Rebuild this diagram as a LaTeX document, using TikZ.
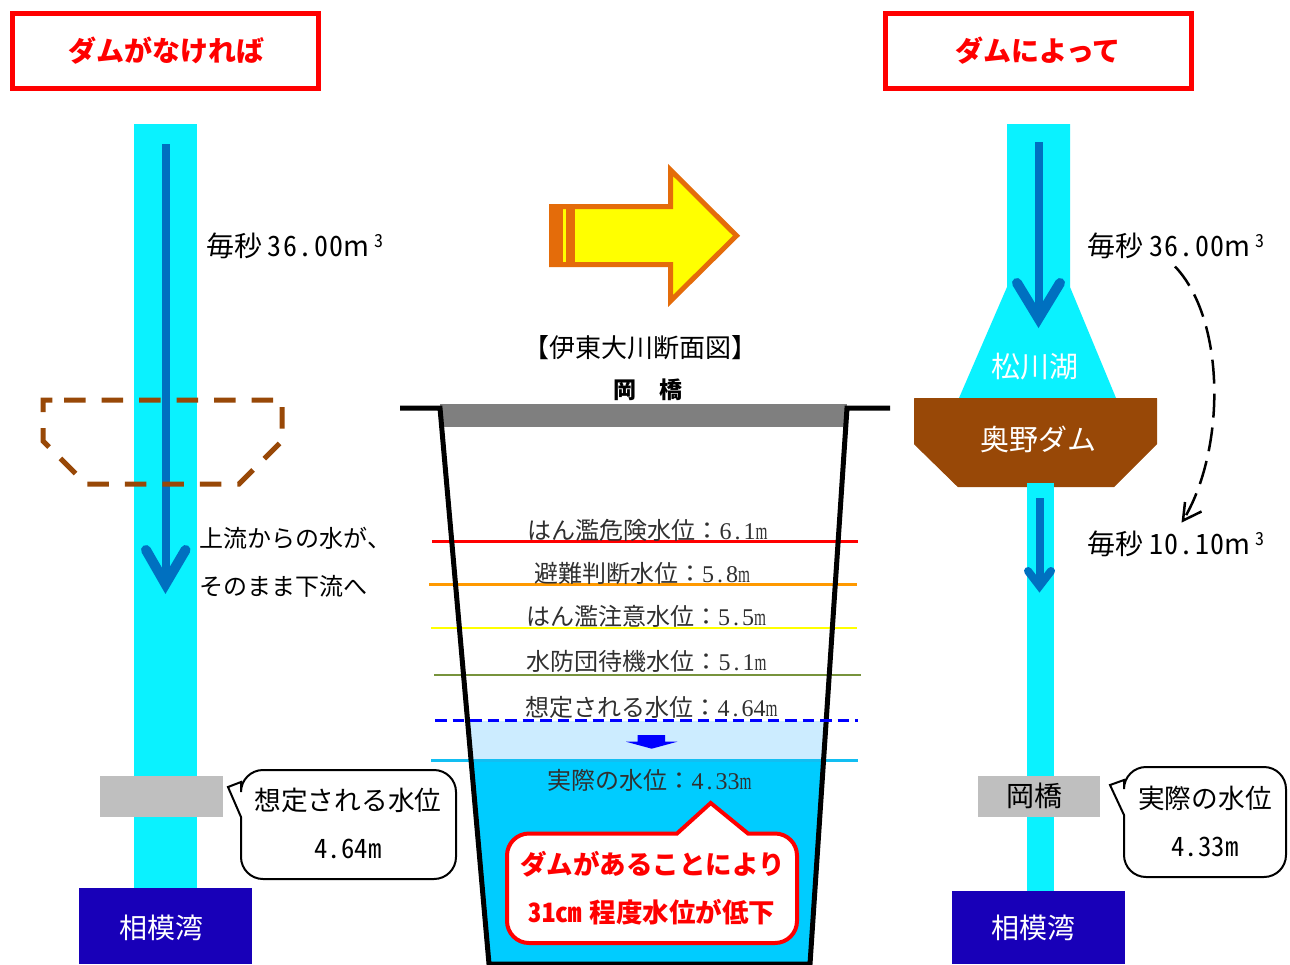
\documentclass[tikz,border=0pt]{standalone}
\usepackage{graphicx}
\usepackage{fontspec}
\setmainfont{Noto Sans CJK JP}
\newfontfamily\hw[RawFeature=+hwid]{Noto Sans CJK JP}
\newfontfamily\hwsp[RawFeature=+hwid,LetterSpace=5]{Noto Sans CJK JP}
\newfontfamily\minchodigits{Liberation Serif}
\definecolor{river}{HTML}{0AF2FF}
\definecolor{flowblue}{HTML}{0070C0}
\definecolor{dambrown}{HTML}{984807}
\definecolor{seablue}{HTML}{1800B8}
\definecolor{bridgegray}{HTML}{BFBFBF}
\definecolor{darkgray}{HTML}{7F7F7F}
\definecolor{arroworange}{HTML}{E46C0A}
\definecolor{waterdeep}{HTML}{00CCFF}
\definecolor{waterlight}{HTML}{CCECFF}
\definecolor{labelink}{HTML}{303030}
\definecolor{pureyellow}{HTML}{FFFF00}
\definecolor{lvorange}{HTML}{FF9900}
\definecolor{lvgreen}{HTML}{77933C}
\definecolor{lvcyan}{HTML}{12BEF2}
\newcommand{\flowtext}[1]{毎秒\hspace{6pt}{\hwsp #1}m\hspace{5pt}\raisebox{9pt}{\fontsize{18}{18}\selectfont{\hw 3}}}
\newcommand{\mdig}[3]{{\minchodigits #1\makebox[.5em]{.}#2\scalebox{.64}[1]{m}}}
\tikzset{
  lbl/.style={inner sep=0pt,outer sep=0pt,align=center},
  sz/.style={lbl,font=\fontsize{#1}{#1}\selectfont,text height=0.88*#1 pt,text depth=0.12*#1 pt},
  t28/.style={sz=28},
  t27/.style={sz=26.7},
  t24/.style={sz=24},
  lvl/.style={sz=24,text=labelink},
  head/.style={sz=28,font=\fontsize{28}{28}\selectfont\bfseries,text=red},
  redb/.style={sz=26.5,font=\fontsize{26.5}{26.5}\selectfont\bfseries,text=red},
  wh/.style={t28,text=white},
  titlebox/.style={draw=red,line width=5,fill=white},
  shaft/.style={draw=flowblue,line width=8},
  vee/.style={draw=flowblue,line cap=round,line join=miter,miter limit=20},
  callout/.style={draw=black,line width=2,fill=white,rounded corners=22},
}
\begin{document}
\begin{tikzpicture}[x=1pt,y=-1pt]
\useasboundingbox (0,0) rectangle (1290,964);
\fill[white] (0,0) rectangle (1290,964);
% title boxes
\draw[titlebox] (12.5,13.5) rectangle (318,88.5);
\node[head] (t1) at (166,50.5) {ダムがなければ};
\draw[titlebox] (885.5,13.5) rectangle (1191.5,88.5);
\node[head] (t2) at (1038,50.5) {ダムによって};
% left river
\fill[river] (134,124) rectangle (197,888);
\fill[bridgegray] (100,776) rectangle (223,817);
\fill[seablue] (79,888) rectangle (252,964);
\node[wh] (sea1) at (161,928) {相模湾};
\coordinate (a1s) at (165.5,144);
\coordinate (a1e) at (165.5,580);
\coordinate (a1l) at (146,550);
\coordinate (a1r) at (185.5,550);
\coordinate (a1t) at (165.5,584);
\draw[shaft] (a1s) -- (a1e);
\draw[vee,line width=10] (a1l) -- (a1t) -- (a1r);
% dashed former dam
\draw[dambrown,line width=5,dash pattern=on 21.5 off 16]
  (64,400) -- (282,400) -- (282,441) -- (239,484) -- (86,484) -- (43,441) -- (43,400) -- cycle;
\node[t28,anchor=west] (q1) at (206,246) {\flowtext{36.00}};
\node[t24,anchor=west] (up1) at (199.5,538) {上流からの水が、};
\node[t24,anchor=west] (up2) at (199.5,586) {そのまま下流へ};
% left callout
\draw[callout] (241,782) [sharp corners] -- (228,787) -- (241,817) [rounded corners=22] -- (241,879) -- (456,879) -- (456,770) -- (241,770) [sharp corners] -- cycle;
\node[t27] (c1a) at (348,800) {想定される水位};
\node[t27] (c1b) at (348,848) {{\hw 4.64m}};
% big arrow
\draw[arroworange,line width=5,fill=pureyellow,line join=miter]
  (551.5,206.5) -- (670.5,206.5) -- (670.5,170) -- (736.5,235.7) -- (670.5,301) -- (670.5,264.5) -- (551.5,264.5) -- cycle;
\fill[arroworange] (549,204) rectangle (563,267);
\fill[arroworange] (566,204) rectangle (575,267);
\node[sz=26] (title) at (640,347.5) {【伊東大川断面図】};
\node[sz=23,font=\fontsize{23}{23}\selectfont\bfseries] (br) at (647.5,390) {岡　橋};
% section
\fill[darkgray] (440,404) rectangle (847,427);
\fill[waterlight] (467.6,721) -- (826,721) -- (823.6,759) -- (471,759) -- cycle;
\fill[waterdeep] (471,759) -- (823.6,759) -- (810,964) -- (489,964) -- cycle;
\draw[red,line width=3] (432,541.5) -- (858,541.5);
\draw[lvorange,line width=3] (429,584.5) -- (857,584.5);
\draw[pureyellow,line width=2] (431,628) -- (857,628);
\draw[lvgreen,line width=2] (434,675) -- (861,675);
\draw[lvcyan,line width=3] (431,760) -- (858,760);
\draw[black,line width=5,line join=miter] (400,408) -- (440,408) -- (489,964) -- (810,964) -- (847,408) -- (890,408);
\draw[blue,line width=2.5,dash pattern=on 11.5 off 6] (435,720.5) -- (858,720.5);
\node[lvl] (l1) at (647.5,530) {はん濫危険水位：\mdig{6}{1}{}};
\node[lvl] (l2) at (642,573) {避難判断水位：\mdig{5}{8}{}};
\node[lvl] (l3) at (646,616) {はん濫注意水位：\mdig{5}{5}{}};
\node[lvl] (l4) at (646.5,661) {水防団待機水位：\mdig{5}{1}{}};
\node[lvl] (l5) at (651.5,707) {想定される水位：\mdig{4}{64}{}};
\node[lvl] (l6) at (649.5,780) {実際の水位：\mdig{4}{33}{}};
\fill[blue] (637.7,735) -- (665,735) -- (665,741.7) -- (677.3,741.7) -- (651.7,748.7) -- (626,741.7) -- (637.7,741.7) -- cycle;
% red callout
\draw[red,line width=4,fill=white,rounded corners=22] (507,888) -- (507,833.5) [sharp corners] -- (677,833.5) -- (710.7,803) -- (748,833.5) [rounded corners=22] -- (797,833.5) -- (797,943) -- (507,943) -- cycle;
\node[redb] (r1) at (652.5,864) {ダムがあることにより};
\node[redb] (r2) at (652,912) {{\hw 31cm}\hspace{8pt}程度水位が低下};
% right river
\fill[river] (1007,124) -- (1070,124) -- (1070,287) -- (1116,398) -- (959,398) -- (1007,287) -- cycle;
\fill[river] (1027,483) rectangle (1054,891);
\draw[dambrown,fill=dambrown,line width=1,line join=round] (914.5,398.5) -- (1156.5,398.5) -- (1156.5,444) -- (1114,486.5) -- (958,486.5) -- (914.5,444) -- cycle;
\fill[river] (1027,483) rectangle (1054,490);
\fill[bridgegray] (978,776) rectangle (1100,817);
\fill[seablue] (952,891) rectangle (1125,964);
\node[wh] (sea2) at (1033,928) {相模湾};
\node[t28] (br2) at (1034,796) {岡橋};
\node[sz=29,text=white] (lake) at (1035,366) {松川湖};
\node[sz=29,text=white] (dam) at (1038,439) {奥野ダム};
\coordinate (a2s) at (1038.5,142);
\coordinate (a2e) at (1038.5,316);
\coordinate (a2l) at (1017,283);
\coordinate (a2r) at (1060,283);
\coordinate (a2t) at (1038.5,318.4);
\draw[shaft] (a2s) -- (a2e);
\draw[vee,line width=10] (a2l) -- (a2t) -- (a2r);
\coordinate (a3s) at (1039.5,498);
\coordinate (a3e) at (1039.5,585);
\coordinate (a3l) at (1028,571);
\coordinate (a3r) at (1051,571);
\coordinate (a3t) at (1039.5,586);
\draw[shaft] (a3s) -- (a3e);
\draw[vee,line width=8] (a3l) -- (a3t) -- (a3r);
\node[t28,anchor=west] (q2) at (1087,246) {\flowtext{36.00}};
\node[t28,anchor=west] (q3) at (1087,544) {\flowtext{10.10}};
% dashed curve
\coordinate (cs) at (1175,266.5);
\coordinate (ce) at (1183,520.5);
\coordinate (chl) at (1185,502);
\coordinate (chr) at (1201.5,511.5);
\draw[black,line width=2.5,dash pattern=on 24 off 10] (cs) .. controls (1226,320) and (1226,450) .. (ce);
\draw[black,line width=2.5] (chl) -- (ce) -- (chr);
% right callout
\draw[callout] (1124,780) [sharp corners] -- (1110,785) -- (1124,815) [rounded corners=22] -- (1124,877) -- (1286,877) -- (1286,767) -- (1124,767) [sharp corners] -- cycle;
\node[t27] (c2a) at (1205,798) {実際の水位};
\node[t27] (c2b) at (1205,846) {{\hw 4.33m}};
\end{tikzpicture}
\end{document}
